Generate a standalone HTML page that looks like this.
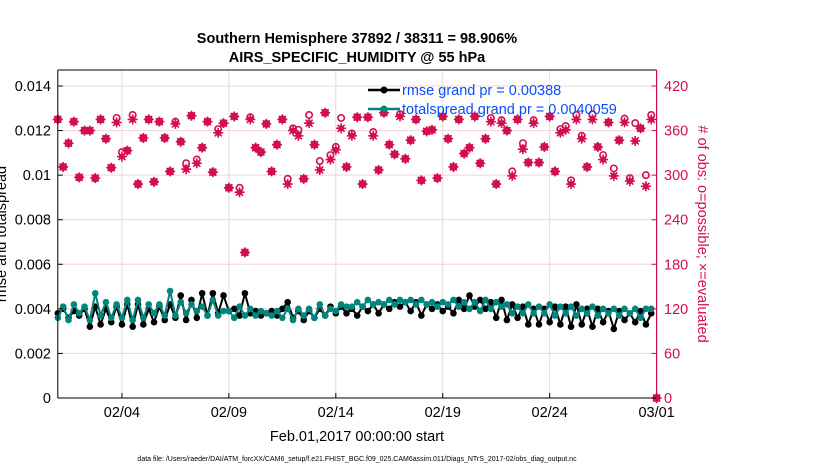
<!DOCTYPE html>
<html><head><meta charset="utf-8"><style>
body{margin:0;background:#fff;}
svg{display:block;font-family:"Liberation Sans",sans-serif;}
</style></head><body>
<svg id="chart" width="830" height="470" xmlns="http://www.w3.org/2000/svg">
<text x="357" y="43" text-anchor="middle" font-size="14.5" font-weight="bold">Southern Hemisphere 37892 / 38311 = 98.906%</text>
<text x="357" y="62" text-anchor="middle" font-size="14.5" font-weight="bold">AIRS_SPECIFIC_HUMIDITY @ 55 hPa</text>
<g id="grid"></g><g id="marks"></g><g id="axes"></g>
<text transform="translate(6,234) rotate(-90)" text-anchor="middle" font-size="14.5">rmse and totalspread</text>
<text transform="translate(698,234) rotate(90)" text-anchor="middle" font-size="14.5" fill="#d10f4f"># of obs: o=possible; ×=evaluated</text>
<text x="357" y="441" text-anchor="middle" font-size="14.5">Feb.01,2017 00:00:00 start</text>
<text x="357" y="461" text-anchor="middle" font-size="7">data file: /Users/raeder/DAI/ATM_forcXX/CAM6_setup/f.e21.FHIST_BGC.f09_025.CAM6assim.011/Diags_NTrS_2017-02/obs_diag_output.nc</text>
<g>
<line x1="368" y1="90" x2="400" y2="90" stroke="#000" stroke-width="2.5"/>
<circle cx="384" cy="90" r="3.5" fill="#000"/>
<text x="402" y="95" font-size="14.5" fill="#0a4dff">rmse grand pr = 0.00388</text>
<line x1="368" y1="109" x2="400" y2="109" stroke="#00857f" stroke-width="2.5"/>
<circle cx="384" cy="109" r="3.5" fill="#00857f"/>
<text x="402" y="114" font-size="14.5" fill="#0a4dff">totalspread grand pr = 0.0040059</text>
</g>
</svg>
<script>
const dayTicks=[3,8,13,18,23,28];
const dayLabels=["02/04","02/09","02/14","02/19","02/24","03/01"];
const leftTicks=[0,0.002,0.004,0.006,0.008,0.01,0.012,0.014];
const leftLabels=["0","0.002","0.004","0.006","0.008","0.01","0.012","0.014"];
const rightTicks=[0,60,120,180,240,300,360,420];
const rmse=[.0038,.0040,.0036,.0039,.0037,.0040,.0032,.0041,.0033,.0040,
.0034,.0041,.0033,.0042,.0032,.0042,.0033,.0040,.0034,.0041,
.0035,.0042,.0036,.0046,.0035,.0044,.0036,.0047,.0037,.0047,
.0038,.0046,.0039,.0040,.0037,.0047,.0038,.0039,.0037,.0038,
.0039,.0037,.0040,.0043,.0036,.0039,.0035,.0039,.0036,.0040,
.0037,.0041,.0038,.0041,.0038,.0040,.0037,.0041,.0039,.0042,
.0038,.0042,.0040,.0043,.0041,.0043,.0039,.0043,.0037,.0042,
.0040,.0042,.0039,.0041,.0038,.0044,.0040,.0046,.0041,.0044,
.0040,.0043,.0036,.0044,.0035,.0042,.0036,.0041,.0033,.0040,
.0033,.0040,.0034,.0041,.0033,.0041,.0032,.0042,.0033,.0040,
.0032,.0040,.0034,.0039,.0031,.0039,.0035,.0038,.0034,.0039,.0033,.0038];
const spread=[.0036,.0041,.0035,.0042,.0038,.0041,.0035,.0047,.0037,.0043,
.0036,.0042,.0036,.0044,.0035,.0044,.0036,.0042,.0038,.0042,
.0037,.0048,.0037,.0043,.0038,.0042,.0039,.0041,.0037,.0044,
.0037,.0039,.0039,.0036,.0041,.0037,.0040,.0037,.0039,.0038,
.0037,.0039,.0036,.0040,.0035,.0040,.0037,.0040,.0036,.0042,
.0037,.0040,.0039,.0042,.0041,.0041,.0043,.0041,.0044,.0042,
.0043,.0042,.0044,.0042,.0044,.0043,.0044,.0042,.0044,.0042,
.0043,.0041,.0043,.0042,.0044,.0041,.0043,.0040,.0043,.0039,
.0044,.0040,.0043,.0041,.0042,.0038,.0041,.0038,.0042,.0038,
.0041,.0038,.0042,.0037,.0041,.0038,.0041,.0037,.0040,.0038,
.0041,.0037,.0040,.0038,.0040,.0037,.0040,.0038,.0040,.0036,.0040,.0040];
const evaluated=[375,311,343,372,297,360,360,296,375,349,
310,371,325,333,375,288,350,375,291,372,
350,305,369,345,308,380,316,337,372,304,
357,370,283,379,277,196,375,337,331,369,
305,341,375,288,360,353,295,370,341,307,
384,321,334,363,311,353,378,288,378,353,
307,384,341,328,379,322,347,375,293,359,
361,296,379,349,311,375,329,337,379,316,
349,372,288,370,360,299,375,335,317,370,
317,338,379,305,357,361,288,375,349,311,
375,338,321,371,299,347,371,292,346,363,285,375,0];
const possible=[375,311,343,372,297,360,360,296,375,349,
310,377,331,333,381,288,350,375,291,372,
350,305,372,345,316,380,321,337,372,304,
362,370,283,379,283,196,378,337,331,369,
305,341,375,295,363,361,295,381,341,319,
384,327,338,377,311,356,378,288,378,358,
307,384,341,328,382,322,347,375,293,359,
361,296,379,349,311,375,329,337,379,316,
349,377,288,374,360,305,375,343,317,374,
317,338,379,305,362,366,293,381,353,311,
382,338,327,371,309,347,376,296,370,363,300,381,0];
const X0=57.8,X1=656.6,Y0=398,Y1=70,D0=0,D1=28,LMAX=0.014*(398-70)/(398-86);
const xs=i=>X0+(i/4-D0)/(D1-D0)*(X1-X0);
const xd=d=>X0+(d-D0)/(D1-D0)*(X1-X0);
const yl=v=>Y0-v/LMAX*(Y0-Y1);
const yr=c=>yl(c/30000);
const NS="http://www.w3.org/2000/svg";
function mk(tag,attrs,parent){const e=document.createElementNS(NS,tag);for(const k in attrs)e.setAttribute(k,attrs[k]);parent.appendChild(e);return e;}
const grid=document.getElementById('grid'),marks=document.getElementById('marks'),axes=document.getElementById('axes');
mk('rect',{x:X0,y:Y1,width:X1-X0,height:Y0-Y1,fill:'#fff'},grid);
dayTicks.forEach((d,k)=>{
 const l=mk('line',{x1:xd(d),x2:xd(d),y1:Y1,y2:Y0,stroke:'#dcdcdc','stroke-width':1},grid);
 
 
 const t=mk('text',{x:xd(d),y:417,'text-anchor':'middle','font-size':14.5},axes);t.textContent=dayLabels[k];
 
 
 mk('line',{x1:xd(d),x2:xd(d),y1:Y0,y2:Y0-5,stroke:'#000'},axes);
});
leftTicks.forEach((v,k)=>{
 if(v>0){const l=mk('line',{x1:X0,x2:X1,y1:yl(v),y2:yl(v),stroke:'#f3d0dc','stroke-width':1},grid);
 
 }
 const t=mk('text',{x:51,y:yl(v)+5,'text-anchor':'end','font-size':14.5},axes);t.textContent=leftLabels[k];
 
 
 mk('line',{x1:X0,x2:X0+5,y1:yl(v),y2:yl(v),stroke:'#000'},axes);
});
rightTicks.forEach(c=>{
 const t=mk('text',{x:664,y:yr(c)+5,'font-size':14.5,fill:'#d10f4f'},axes);t.textContent=c;
 
 
 mk('line',{x1:X1,x2:X1-5,y1:yr(c),y2:yr(c),stroke:'#d10f4f'},axes);
});
mk('line',{x1:X0,x2:X0,y1:Y1,y2:Y0,stroke:'#000'},axes);
mk('line',{x1:X0,x2:X1,y1:Y0,y2:Y0,stroke:'#000'},axes);
mk('line',{x1:X0,x2:X1,y1:Y1,y2:Y1,stroke:'#000'},axes);
mk('line',{x1:X1,x2:X1,y1:Y1,y2:Y0,stroke:'#d10f4f','stroke-width':1.2},axes);
function series(arr,color,name){
 const p=mk('polyline',{points:arr.map((v,i)=>xs(i)+','+yl(v)).join(' '),fill:'none',stroke:color,'stroke-width':2},marks);
 
 
 arr.forEach((v,i)=>{const c=mk('circle',{cx:xs(i),cy:yl(v),r:3.3,fill:color},marks);
  
  });
}
series(rmse,'#000','rmse');
series(spread,'#00857f','totalspread');
possible.forEach((c,i)=>{
 const e=mk('circle',{cx:xs(i),cy:yr(c),r:3.2,fill:'none',stroke:'#d10f4f','stroke-width':1.6},marks);
 
 
});
evaluated.forEach((c,i)=>{
 const x=xs(i),y=yr(c);
 const g=mk('g',{},marks);
 
 
 mk('circle',{cx:x,cy:y,r:3,fill:'#d10f4f'},g);
 mk('path',{d:`M${x-5},${y}H${x+5}M${x},${y-5}V${y+5}M${x-3.5},${y-3.5}L${x+3.5},${y+3.5}M${x-3.5},${y+3.5}L${x+3.5},${y-3.5}`,stroke:'#d10f4f','stroke-width':1.6},g);
});
</script>
</body></html>
